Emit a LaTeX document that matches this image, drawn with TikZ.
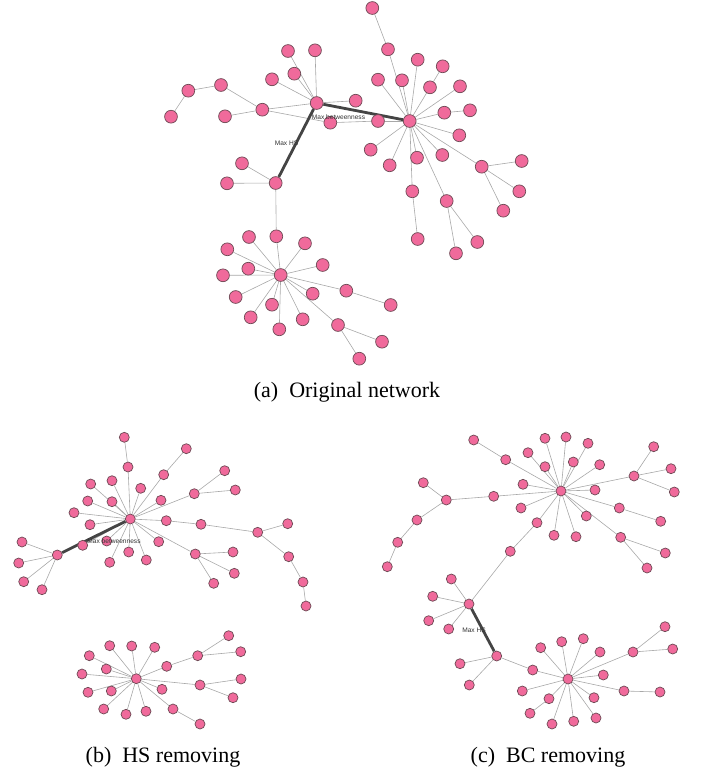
\documentclass[tikz,border=0pt]{standalone}
\usepackage{fontspec}
\setmainfont{Liberation Serif}
\setsansfont{Liberation Sans}
\usetikzlibrary{backgrounds}
\definecolor{vtxpink}{HTML}{F06A9B}
\definecolor{vtxrim}{HTML}{6E4A55}
\definecolor{lnkgray}{HTML}{A8A8A8}
\definecolor{maxgray}{HTML}{444444}
\tikzset{
  vtx/.style={circle, fill=vtxpink, draw=vtxrim, line width=0.35pt, inner sep=0pt, minimum size=6.4pt},
  vtxs/.style={vtx, minimum size=5pt},
  lnk/.style={draw=lnkgray, line width=0.3pt},
  maxlnk/.style={draw=maxgray, line width=1.4pt},
  maxlabel/.style={font=\sffamily\fontsize{3.3}{4}\selectfont, text=black!80, inner sep=0pt},
  subcap/.style={font=\fontsize{11}{13}\selectfont, inner sep=0pt}
}
\begin{document}
\begin{tikzpicture}[x=0.5pt, y=-0.5pt]
\useasboundingbox (0,0) rectangle (701,772);

% (a) original network
\foreach \n/\x/\y in {hA/316.7/103, hB/409.7/121, hC/275.7/183, hD/280.7/275,
    a1/288/51, a2/315/50.3, a3/294.3/73.7, a4/272/79.3, a5/355.7/100.7,
    a6/262.3/109.7, a7/221/85, a8/188.3/90.7, a9/171/116.7, a10/225/116.3,
    b1/372.3/8, b2/388/49.3, b3/417.7/59.7, b4/442.7/66.3, b5/378/79.7,
    b6/402/80.3, b7/460/86.3, b8/430/87.3, b9/444.3/112.7, b10/470/110.3,
    b11/459.3/135.3, b12/370.7/149.7, b13/330.3/122.7, b14/378/121,
    b15/417/157.7, b16/442.3/155, b17/389.7/165.3, b18/481.7/166.7,
    b19/521.7/161, b20/519.3/191.3, b21/503.3/210.7, b22/412.3/191.3,
    b23/417.7/239, b24/446.7/201, b25/456/253.3, b26/477.3/242,
    c1/242/163.3, c2/227/183.3, d0/276.3/236.3,
    d1/249/237, d2/305/243.3, d3/227.3/249.3, d4/322.7/265, d5/248.3/268.7,
    d6/223/275.3, d7/235.7/297, d8/272/304.7, d9/312.7/293.7, d10/346.3/290.7,
    d11/390.7/305, d12/250.7/317.3, d13/302.7/319.3, d14/279.3/329.3,
    d15/338/325, d16/382/341.7, d17/359.3/358.7}
  \node[vtx] (\n) at (\x,\y) {};

\node[maxlabel] (lbA) at (338.5,116.7) {Max betweenness};
\node[maxlabel] (lbB) at (286.5,143.7) {Max HS};

\begin{pgfonlayer}{background}
\foreach \u/\v in {hA/a1, hA/a2, hA/a3, hA/a4, hA/a5, hA/a6, a6/a7, a7/a8,
    a8/a9, a6/a10, a6/b13, b13/b14, b14/hB, b1/b2, b2/hB, b3/hB, b4/b8,
    b8/hB, b5/hB, b6/hB, b7/hB, b9/hB, b10/b9, b11/hB, b12/hB, b15/hB,
    b16/hB, b17/hB, b18/hB, b18/b19, b18/b20, b18/b21, b22/hB, b22/b23,
    b24/hB, b24/b25, b24/b26, hC/c1, hC/c2, hC/d0, d0/hD,
    hD/d1, hD/d2, hD/d3, hD/d4, hD/d5, hD/d6, hD/d7, hD/d8, hD/d9, hD/d10,
    d10/d11, hD/d12, hD/d13, hD/d14, hD/d15, d15/d16, d15/d17}
  \draw[lnk] (\u) -- (\v);
\draw[maxlnk] (hA) -- (hB);
\draw[maxlnk] (hA) -- (hC);
\end{pgfonlayer}

\node[subcap] (capA) at (347,392) {(a)\ \ Original network};

% (b) HS removing
\foreach \n/\x/\y in {hE/130.3/519, hF/57.3/555, hG/136.3/678.7,
    e1/124.3/437.3, e2/128/467, e3/186.3/448.7, e4/163.7/474.7, e5/224.7/470.7,
    e6/235.3/490, e7/194.3/493.7, e8/90.7/484, e9/112/480.7, e10/140.7/488.3,
    e11/87.7/501, e12/112/501.7, e13/161/500.3, e14/74/512.7, e15/90/524.7,
    e16/166.3/520.7, e17/201/524.3, e18/257.7/532.3, e19/287.7/523.7,
    e20/288.7/556.7, e21/303/582, e22/306/606, e23/82.7/545.3, e24/106.7/541,
    e25/158.7/541.7, e26/128.7/552, e27/109.7/562.3, e28/146.3/560,
    e29/195.3/554, e30/233/552, e31/234.3/573.3, e32/213.7/583.3,
    f1/22/542, f2/18.7/563, f3/23.7/581.7, f4/42/589.7,
    g1/228.7/635.7, g2/109.7/645.7, g3/131.7/646, g4/154.7/647.3, g5/89.3/655.7,
    g6/197.7/655.7, g7/240.7/651.7, g8/106.3/669, g9/166.7/666.3, g10/82/674,
    g11/241/679, g12/200/685, g13/88/692.3, g14/111.3/691, g15/162/689.3,
    g16/233/697.7, g17/103.7/709, g18/126/714.3, g19/146/711.3, g20/173/709,
    g21/200/724}
  \node[vtxs] (\n) at (\x,\y) {};

\node[maxlabel] (lbC) at (114,541) {Max betweenness};

\begin{pgfonlayer}{background}
\foreach \u/\v in {e1/e2, e2/hE, e3/e4, e4/hE, e5/e7, e6/e7, e7/hE, hE/e8,
    hE/e9, hE/e10, hE/e11, hE/e12, hE/e13, hE/e14, hE/e15, hE/e16, e16/e17,
    e17/e18, e18/e19, e18/e20, e20/e21, e21/e22, hE/e23, hE/e24, hE/e25,
    hE/e26, hE/e27, hE/e28, hE/e29, e29/e30, e29/e31, e29/e32,
    hF/f1, hF/f2, hF/f3, hF/f4,
    hG/g2, hG/g3, hG/g4, hG/g5, hG/g8, hG/g9, hG/g10, hG/g12, hG/g13, hG/g14,
    hG/g15, hG/g17, hG/g18, hG/g19, hG/g20, g9/g6, g6/g1, g6/g7, g12/g11,
    g12/g16, g20/g21}
  \draw[lnk] (\u) -- (\v);
\draw[maxlnk] (hF) -- (hE);
\end{pgfonlayer}

\node[subcap] (capB) at (163,757) {(b)\ \ HS removing};

% (c) BC removing
\foreach \n/\x/\y in {hH/561/491, hI/469/604, hJ/496.7/656, hK/568/679,
    h1/473.7/440, h2/505.7/459.7, h3/545/438.3, h4/566/437, h5/588/443.3,
    h6/528/452.7, h7/573.3/462, h8/545/466.7, h9/599.7/464.7, h10/653.7/446.7,
    h11/671/468.7, h12/634/476, h13/674.3/492, h14/523/484.3, h15/595/490,
    h16/493.7/496.3, h17/446.3/500, h18/423.3/482.7, h19/417/520,
    h20/397.7/542.3, h21/387.3/566.7, h22/521/508, h23/619.3/508,
    h24/660.7/521.3, h25/586.3/516, h26/537/522.7, h27/510.3/551.3,
    h28/554/535.3, h29/576/536.7, h30/620.7/537.3, h31/665.3/553, h32/647/568,
    i1/451.3/579, i2/432.7/596.3, i3/428.7/620.7, i4/448.7/629,
    j1/460/663.7, j2/469.3/685, j3/532.7/670,
    k1/540.7/647.7, k2/561.7/641.7, k3/583.3/638.7, k4/600/652, k5/633/652,
    k6/665/626.7, k7/672.7/649, k8/603.3/675, k9/522.3/691, k10/549/698.7,
    k11/530/713.3, k12/552/724, k13/573.7/721.3, k14/596/718, k15/594/697.7,
    k16/624/691, k17/660/692}
  \node[vtxs] (\n) at (\x,\y) {};

\node[maxlabel] (lbD) at (474,630.7) {Max HS};

\begin{pgfonlayer}{background}
\foreach \u/\v in {h1/h2, h2/hH, hH/h3, hH/h4, hH/h5, hH/h6, hH/h7, hH/h8,
    hH/h9, h12/hH, h12/h10, h12/h11, h12/h13, hH/h14, hH/h15, hH/h16,
    h16/h17, h17/h18, h17/h19, h19/h20, h20/h21, hH/h22, hH/h23, h23/h24,
    hH/h25, hH/h26, h26/h27, h27/hI, hH/h28, hH/h29, hH/h30, h30/h31, h30/h32,
    hI/i1, hI/i2, hI/i3, hI/i4, hJ/j1, hJ/j2, hJ/j3, j3/hK,
    hK/k1, hK/k2, hK/k3, hK/k4, hK/k5, k5/k6, k5/k7, hK/k8, hK/k9, hK/k10,
    k10/k11, hK/k12, hK/k13, hK/k14, hK/k15, hK/k16, k16/k17}
  \draw[lnk] (\u) -- (\v);
\draw[maxlnk] (hI) -- (hJ);
\end{pgfonlayer}

\node[subcap] (capC) at (548,757) {(c)\ \ BC removing};
\end{tikzpicture}
\end{document}
